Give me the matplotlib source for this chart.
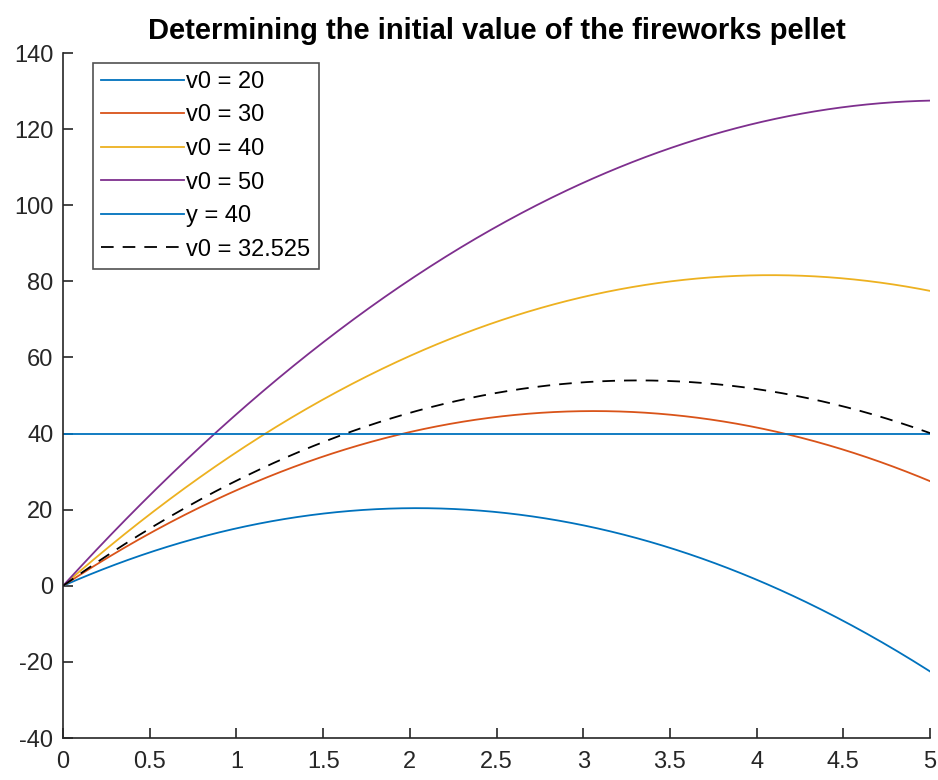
import numpy as np
import matplotlib.pyplot as plt

plt.rcParams['font.family'] = ['Liberation Sans', 'DejaVu Sans']
plt.rcParams['axes.unicode_minus'] = False

# launch speeds and gravity
v0_values = [20, 30, 40, 50]
v0_hit = 32.525
y_target = 40
g = 9.8
t_end = 5

colors = ['#0072BD', '#D95319', '#EDB120', '#7E2F8E']
axis_color = '#262626'

t = np.linspace(0, t_end, 400)

fig = plt.figure(figsize=(9.38, 7.8), dpi=100)
ax = fig.add_axes([0.0672, 0.0538, 0.9243, 0.8782])

for v0, c in zip(v0_values, colors):
    ax.plot(t, v0 * t - 0.5 * g * t ** 2, color=c, lw=1.3, label=f'v0 = {v0}')
ax.plot([0, t_end], [y_target, y_target], color='#0072BD', lw=1.3, label=f'y = {y_target}')
ax.plot(t, v0_hit * t - 0.5 * g * t ** 2, color='k', lw=1.3, ls=(0, (7, 5)),
        label=f'v0 = {v0_hit}')

ax.set_xlim(0, 5)
ax.set_ylim(-40, 140)
ax.set_xticks(np.arange(0, 5.01, 0.5))
ax.set_xticklabels(['0', '0.5', '1', '1.5', '2', '2.5', '3', '3.5', '4', '4.5', '5'])
ax.set_yticks(np.arange(-40, 141, 20))

for side in ['top', 'right']:
    ax.spines[side].set_visible(False)
for side in ['left', 'bottom']:
    ax.spines[side].set_color(axis_color)
    ax.spines[side].set_linewidth(1.2)
ax.tick_params(direction='in', length=7, width=1.2, colors=axis_color,
               labelsize=17, pad=7)
ax.tick_params(axis='x', pad=9)

ax.set_title('Determining the initial value of the fireworks pellet',
             fontsize=21, fontweight='bold', pad=10)

leg = ax.legend(loc='upper left', bbox_to_anchor=(0.0345, 0.986), fontsize=17,
                frameon=True, fancybox=False, edgecolor=axis_color,
                handlelength=3.5, handletextpad=0.1, labelspacing=0.49,
                borderpad=0.35, borderaxespad=0)
leg.get_frame().set_linewidth(1.2)

fig.savefig('out.png', dpi=100)
